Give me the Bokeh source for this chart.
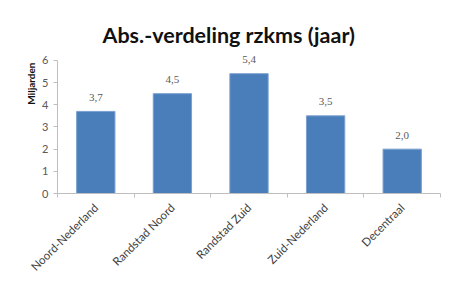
from bokeh.plotting import figure
from bokeh.models import ColumnDataSource, Range1d, FixedTicker, LabelSet, Title
from bokeh.embed import file_html
from bokeh.resources import INLINE

categories = ["Noord-Nederland", "Randstad Noord", "Randstad Zuid", "Zuid-Nederland", "Decentraal"]
values = [3.7, 4.5, 5.4, 3.5, 2.0]
title_text = "Abs.-verdeling rzkms (jaar)"
y_label = "Miljarden"
y_ticks = [0, 1, 2, 3, 4, 5, 6]

xs = [i + 0.5 for i in range(len(categories))]
src = ColumnDataSource(dict(x=xs, top=values, lab=[f"{v:.1f}".replace(".", ",") for v in values]))

p = figure(width=445, height=280, output_backend="svg", toolbar_location=None,
           x_range=Range1d(0, len(categories)), y_range=Range1d(0, 6.4),
           title=title_text)
p.min_border_left = 57
p.min_border_right = 5
p.min_border_top = 51
p.min_border_bottom = 85
p.outline_line_color = None
p.xgrid.visible = False
p.ygrid.visible = False
p.background_fill_color = "white"
p.border_fill_color = "white"

p.title.align = "left"
p.title.offset = 45
p.title.standoff = 8
p.title.text_font = "Lato"
p.title.text_font_style = "bold"
p.title.text_font_size = "21.5px"
p.title.text_color = "#111111"

p.add_layout(Title(text=y_label, align="right", offset=11, standoff=6,
                   text_font="Lato", text_font_style="bold", text_font_size="10px",
                   text_color="#111111"), "left")

p.vbar(x="x", top="top", width=0.5, bottom=0, source=src,
       fill_color="#4a7ebb", line_color="#7aa0d0", line_width=1)

p.add_layout(LabelSet(x="x", y="top", text="lab", source=src, text_align="center",
                      text_baseline="middle", y_offset=14, text_font="Lato",
                      text_font_size="11px", text_color="#595959"))

# axes
axis_color = "#bfbfbf"
p.xaxis.ticker = FixedTicker(ticks=xs, minor_ticks=list(range(len(categories) + 1)))
p.xaxis.major_label_overrides = {x: c for x, c in zip(xs, categories)}
p.xaxis.major_label_orientation = 0.785
p.xaxis.major_tick_in = 0
p.xaxis.major_tick_out = 0
p.xaxis.minor_tick_in = 0
p.xaxis.minor_tick_out = 4
p.xaxis.minor_tick_line_color = axis_color
p.xaxis.axis_line_color = axis_color
p.xaxis.major_label_text_font = "Lato"
p.xaxis.major_label_text_font_size = "11.5px"
p.xaxis.major_label_text_color = "#404040"
p.xaxis.major_label_standoff = 8

p.yaxis.ticker = FixedTicker(ticks=y_ticks)
p.yaxis.bounds = (0, 6)
p.yaxis.major_tick_in = 0
p.yaxis.major_tick_out = 4
p.yaxis.minor_tick_line_color = None
p.yaxis.major_tick_line_color = axis_color
p.yaxis.axis_line_color = axis_color
p.yaxis.major_label_text_font = "Lato"
p.yaxis.major_label_text_font_size = "11px"
p.yaxis.major_label_text_color = "#595959"
p.yaxis.major_label_standoff = 5

open("out.html", "w").write(file_html(p, INLINE))
